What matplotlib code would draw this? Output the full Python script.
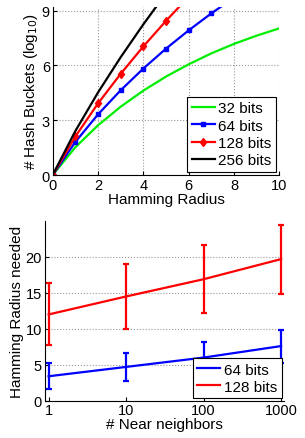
import matplotlib.pyplot as plt
from matplotlib.lines import Line2D

plt.rcParams["font.family"] = ["Liberation Sans", "DejaVu Sans"]
plt.rcParams["font.size"] = 11
plt.rcParams["xtick.labelsize"] = 10.5
plt.rcParams["ytick.labelsize"] = 10.5

# top: number of hash buckets within a Hamming radius (log10)
radius_32 = [0, 1, 2, 3, 4, 5, 6, 7, 8, 9, 10]
buckets_32 = [0, 1.52, 2.72, 3.74, 4.62, 5.39, 6.06, 6.66, 7.18, 7.63, 8.03]
radius_64 = [0, 1, 2, 3, 4, 5, 6, 7, 8]
buckets_64 = [0, 1.81, 3.32, 4.64, 5.83, 6.92, 7.92, 8.85, 9.71]
radius_128 = [0, 1, 2, 3, 4, 5, 6]
buckets_128 = [0, 2.11, 3.92, 5.54, 7.04, 8.44, 9.76]
radius_256 = [0, 1, 2, 3, 4, 5]
buckets_256 = [0, 2.41, 4.52, 6.45, 8.25, 9.95]

# bottom: Hamming radius needed vs number of near neighbors
neighbors = [1, 10, 100, 1000]
radius_need_64 = [3.4, 4.7, 6.0, 7.6]
err_lo_64 = [1.8, 1.9, 2.2, 2.3]
err_hi_64 = [1.9, 2.0, 2.2, 2.3]
radius_need_128 = [12.0, 14.5, 16.9, 19.7]
err_lo_128 = [4.3, 4.5, 4.7, 4.8]
err_hi_128 = [4.4, 4.5, 4.7, 4.8]

fig = plt.figure(figsize=(3.05, 4.39), dpi=100)
W, H = 305.0, 439.0

# top axes
ax1 = fig.add_axes([52.7 / W, 1 - 176 / H, (279.3 - 52.7) / W, 168 / H])
ax1.plot(radius_32, buckets_32, color="#00ee00", lw=1.6, label="32 bits")
ax1.plot(radius_64, buckets_64, color="blue", lw=1.6, marker="s", ms=3.5, label="64 bits")
ax1.plot(radius_128, buckets_128, color="red", lw=1.6, marker="d", ms=4.5, label="128 bits")
ax1.plot(radius_256, buckets_256, color="black", lw=1.6, label="256 bits")
ax1.set_xlim(0, 10)
ax1.set_ylim(0, 9.2)
ax1.set_xticks([0, 2, 4, 6, 8, 10])
ax1.set_yticks([0, 3, 6, 9])
ax1.grid(True, linestyle=":", color="#999999", lw=0.8)
ax1.spines["top"].set_visible(False)
ax1.spines["right"].set_visible(False)
ax1.tick_params(direction="in", length=3, pad=2)
ax1.set_xlabel("Hamming Radius", labelpad=0)
ax1.set_ylabel("# Hash Buckets (log$_{10}$)", labelpad=1)
leg1 = ax1.legend(loc="lower right", handlelength=1.5, handletextpad=0.25,
                  borderpad=0.3, labelspacing=0.22, fancybox=False,
                  edgecolor="black", framealpha=1, borderaxespad=0.2)
leg1.get_frame().set_linewidth(0.8)

# bottom axes
ax2 = fig.add_axes([44.7 / W, 1 - 401.7 / H, (284 - 44.7) / W, (401.7 - 222) / H])
ax2.errorbar(neighbors, radius_need_64, yerr=[err_lo_64, err_hi_64], color="blue",
             lw=1.6, elinewidth=1.6, capsize=2.5, capthick=1.6, label="64 bits")
ax2.errorbar(neighbors, radius_need_128, yerr=[err_lo_128, err_hi_128], color="red",
             lw=1.6, elinewidth=1.6, capsize=2.5, capthick=1.6, label="128 bits")
ax2.set_xscale("log")
ax2.set_xlim(0.89, 1090)
ax2.set_ylim(0, 25)
ax2.set_xticks(neighbors)
ax2.set_xticklabels(["1", "10", "100", "1000"])
ax2.minorticks_off()
ax2.set_yticks([0, 5, 10, 15, 20])
ax2.yaxis.grid(True, linestyle=":", color="#999999", lw=0.8)
ax2.spines["top"].set_visible(False)
ax2.spines["right"].set_visible(False)
ax2.tick_params(direction="in", length=3, pad=2)
ax2.set_xlabel("# Near neighbors", labelpad=0)
ax2.set_ylabel("Hamming Radius needed", labelpad=1)
leg2 = ax2.legend([Line2D([], [], color="blue", lw=1.6), Line2D([], [], color="red", lw=1.6)],
                  ["64 bits", "128 bits"], loc="lower right", handlelength=1.5,
                  handletextpad=0.25, borderpad=0.3, labelspacing=0.2, fancybox=False,
                  edgecolor="black", framealpha=1, borderaxespad=0.15)
leg2.get_frame().set_linewidth(0.8)

plt.savefig("out.png", dpi=100)
